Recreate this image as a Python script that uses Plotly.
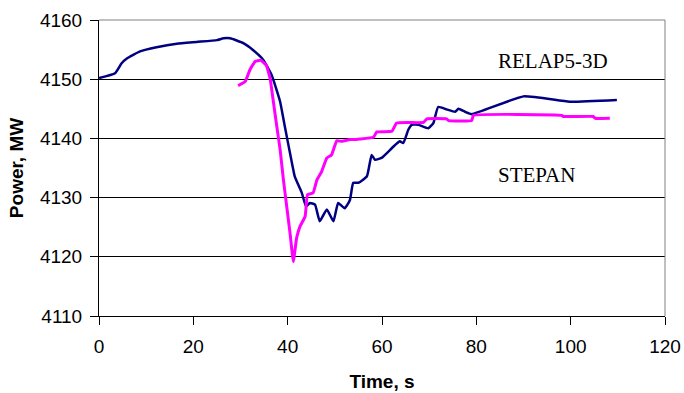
import plotly.graph_objects as go

# RELAP5-3D (navy)
relap_t = [0, 3.4, 4.8, 5.9, 8.7, 12.2, 16.5, 20.7, 25.0, 26.4, 27.8, 30.6, 32.7, 34.8,
           36.6, 38.4, 39.4, 40.5, 41.5, 43.0, 43.9, 44.7, 45.8, 46.8, 48.3, 49.7, 50.7,
           52.1, 53.2, 53.9, 55.0, 56.8, 57.8, 58.5, 59.9, 62.4, 63.8, 64.5, 65.6, 66.3,
           67.7, 69.8, 70.9, 71.9, 73.7, 75.5, 76.2, 77.6, 79.0, 90.0, 99.8, 109.8]
relap_p = [4150.2, 4151.0, 4152.7, 4153.5, 4154.7, 4155.4, 4156.0, 4156.3, 4156.6, 4156.9,
           4156.9, 4156.1, 4154.9, 4153.3, 4150.7, 4146.2, 4142.0, 4137.5, 4133.6, 4130.8,
           4128.5, 4129.1, 4128.8, 4126.0, 4128.0, 4126.0, 4129.1, 4128.2, 4129.6, 4132.5,
           4132.5, 4133.6, 4137.2, 4136.4, 4136.7, 4138.6, 4139.5, 4139.2, 4141.5, 4142.3,
           4142.3, 4141.7, 4142.6, 4145.3, 4144.9, 4144.5, 4145.0, 4144.5, 4144.1, 4147.1,
           4146.2, 4146.5]

# STEPAN (magenta)
stepan_t = [29.5, 31.0, 32.0, 33.1, 34.3, 35.5, 36.3, 37.0, 37.7, 38.4, 39.1, 39.8, 40.5,
            41.2, 41.9, 42.6, 43.7, 44.2, 45.4, 46.2, 47.2, 48.3, 49.3, 50.4, 51.5, 53.2,
            53.9, 55.3, 58.2, 58.9, 62.1, 63.1, 68.8, 69.5, 73.7, 74.1, 79.0, 79.4, 98.1,
            98.4, 104.8, 105.2, 108.3]
stepan_p = [4148.9, 4149.6, 4151.6, 4153.0, 4153.2, 4152.3, 4150.0, 4146.0, 4142.0, 4138.1,
            4133.0, 4128.5, 4124.0, 4119.2, 4123.2, 4125.1, 4126.8, 4130.5, 4130.8, 4133.0,
            4134.4, 4136.7, 4137.2, 4139.6, 4139.5, 4139.8, 4139.8, 4139.9, 4140.2, 4141.1,
            4141.2, 4142.6, 4142.7, 4143.3, 4143.3, 4143.0, 4143.0, 4143.9, 4143.9, 4143.7,
            4143.7, 4143.4, 4143.4]

x_ticks = [0, 20, 40, 60, 80, 100, 120]
y_ticks = [4110, 4120, 4130, 4140, 4150, 4160]

fig = go.Figure()
fig.add_trace(go.Scatter(x=relap_t, y=relap_p, mode="lines", name="RELAP5-3D",
                         line=dict(color="#000080", width=2.5, shape="spline", smoothing=0.4)))
fig.add_trace(go.Scatter(x=stepan_t, y=stepan_p, mode="lines", name="STEPAN",
                         line=dict(color="#FF00FF", width=3, shape="spline", smoothing=0.3)))

fig.add_annotation(x=84.2, y=4153.0, text="RELAP5-3D", showarrow=False,
                   xanchor="left", yanchor="middle",
                   font=dict(family="Liberation Serif", size=21, color="black"))
fig.add_annotation(x=84.2, y=4133.9, text="STEPAN", showarrow=False,
                   xanchor="left", yanchor="middle",
                   font=dict(family="Liberation Serif", size=21, color="black"))

# plot-area border (top and right, gray)
fig.add_shape(type="line", xref="paper", yref="paper", x0=0, x1=1, y0=1, y1=1,
              line=dict(color="#808080", width=1), layer="above")
fig.add_shape(type="line", xref="paper", yref="paper", x0=1, x1=1, y0=0, y1=1,
              line=dict(color="#808080", width=1), layer="above")

fig.update_layout(
    width=684, height=393,
    margin=dict(l=99, r=19, t=20, b=77),
    paper_bgcolor="white", plot_bgcolor="white",
    showlegend=False,
    font=dict(family="Liberation Sans", size=19, color="black"),
    xaxis=dict(range=[0, 120], tickvals=x_ticks, ticks="outside", ticklen=8,
               tickcolor="black", showline=True, linecolor="black", linewidth=1,
               showgrid=False, zeroline=False, ticklabelstandoff=5, automargin=False,
               title=dict(text="<b>Time, s</b>", font=dict(size=19), standoff=18)),
    yaxis=dict(range=[4110, 4160], tickvals=y_ticks, ticks="outside", ticklen=8,
               tickcolor="black", showline=True, linecolor="black", linewidth=1,
               showgrid=True, gridcolor="black", gridwidth=1, zeroline=False,
               ticklabelstandoff=4, automargin=False,
               title=dict(text="<b>Power, MW</b>", font=dict(size=19), standoff=11)),
)

fig.write_html("out.html")
